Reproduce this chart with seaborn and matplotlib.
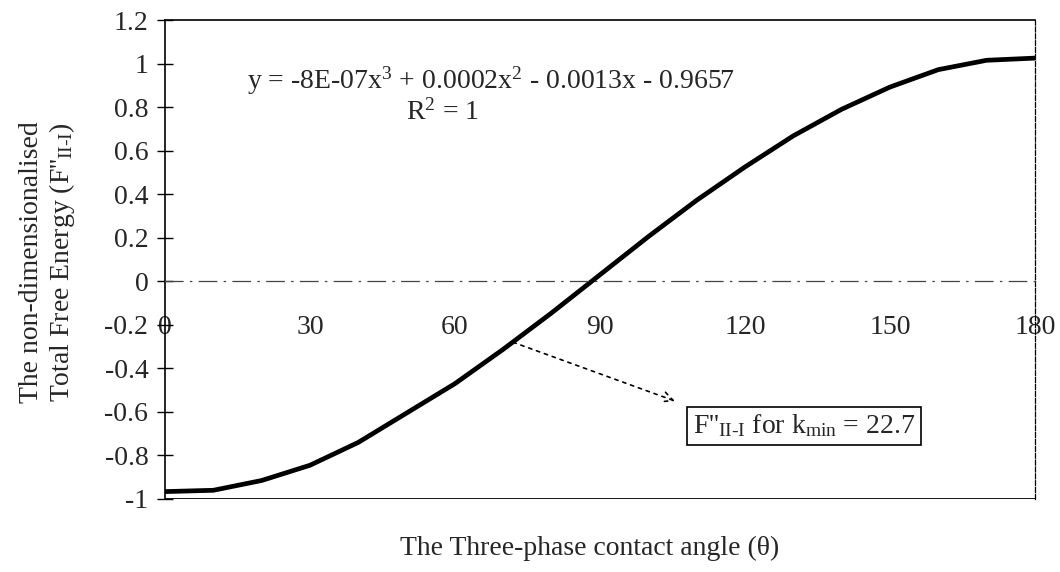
import numpy as np
import pandas as pd
import matplotlib
matplotlib.use("Agg")
import matplotlib.pyplot as plt
import seaborn as sns
from matplotlib.ticker import FuncFormatter

# Contact angle (degrees) and non-dimensionalised total free energy
angle = [0, 10, 20, 30, 40, 50, 60, 70, 80, 90, 100, 110, 120, 130, 140, 150, 160, 170, 180]
energy = [-0.966, -0.960, -0.915, -0.845, -0.740, -0.605, -0.470, -0.312, -0.145, 0.030,
          0.205, 0.372, 0.525, 0.668, 0.790, 0.892, 0.972, 1.015, 1.025]

x_ticks = [0, 30, 60, 90, 120, 150, 180]
y_ticks = [-1, -0.8, -0.6, -0.4, -0.2, 0, 0.2, 0.4, 0.6, 0.8, 1, 1.2]

fit_text = "y = -8E-07x$^{3}$ + 0.0002x$^{2}$ - 0.0013x - 0.9657"
r2_text = "R$^{2}$ = 1"
kmin_point = (72, -0.28)
kmin_label_pos = (109.2, -0.665)
kmin_arrow_end = (105.5, -0.55)
kmin_text = "F''$_{\\mathrm{II\\text{-}I}}$ for k$_{\\mathrm{min}}$ = 22.7"

FS = 20

sns.set_theme(style="white")
plt.rcParams["font.family"] = ["Liberation Serif", "DejaVu Serif"]
plt.rcParams["mathtext.fontset"] = "custom"
plt.rcParams["mathtext.rm"] = "Liberation Serif"
plt.rcParams["mathtext.it"] = "Liberation Serif:italic"
plt.rcParams["axes.unicode_minus"] = False

fig = plt.figure(figsize=(10.6, 5.72), dpi=100)
L, R, T, B = 165, 1035, 20, 499
ax = fig.add_axes([L / 1060, 1 - B / 572, (R - L) / 1060, (B - T) / 572])

df = pd.DataFrame({"angle": angle, "energy": energy})
sns.lineplot(data=df, x="angle", y="energy", color="black", linewidth=3.4, ax=ax)

ax.set_xlim(0, 180)
ax.set_ylim(-1, 1.2)

# Box border
for side in ["top", "left", "right"]:
    ax.spines[side].set_color("black")
    ax.spines[side].set_linewidth(1.2)
ax.spines["right"].set_linestyle((0, (4, 1.5)))
ax.spines["right"].set_linewidth(0.9)
ax.axhline(-1, color="black", linewidth=2.0, zorder=1)

# Category axis crossing at zero
ax.spines["bottom"].set_position(("data", 0))
ax.spines["bottom"].set_color("#444444")
ax.spines["bottom"].set_linewidth(0.9)
ax.spines["bottom"].set_linestyle((0, (14, 6, 1, 6)))

ax.set_xticks(x_ticks)
ax.set_yticks(y_ticks)
ax.yaxis.set_major_formatter(FuncFormatter(lambda v, p: f"{v:g}"))
ax.tick_params(axis="y", direction="inout", length=12, width=1.0, color="black",
               labelsize=FS, pad=6, left=True)
ax.tick_params(axis="x", direction="inout", length=0, labelsize=FS, pad=24, bottom=True)

ax.set_xlabel("")
ax.set_ylabel("")
fig.text(590 / 1060, 1 - 548 / 572, "The Three-phase contact angle (\u03b8)",
         ha="center", va="center", fontsize=FS)
fig.text(48 / 1060, 1 - 262 / 572,
         "The non-dimensionalised\nTotal Free Energy (F''$_{\\mathrm{II\\text{-}I}}$)",
         ha="center", va="center", rotation=90, fontsize=FS, linespacing=1.15)

ax.text(17, 0.92, fit_text, ha="left", va="center", fontsize=FS)
ax.text(57.5, 0.775, r2_text, ha="center", va="center", fontsize=FS)

# Callout: dotted arrow from the curve to the boxed label
ax.annotate("", xy=kmin_arrow_end, xytext=kmin_point,
            arrowprops=dict(arrowstyle="->", color="black", lw=1.2, linestyle=(0, (2, 3)),
                            shrinkA=0, shrinkB=0, mutation_scale=18))
ax.text(*kmin_label_pos, kmin_text, ha="left", va="center", fontsize=FS,
        bbox=dict(boxstyle="square,pad=0.2", fc="white", ec="black", lw=1.2))

fig.savefig("out.png", dpi=100)
